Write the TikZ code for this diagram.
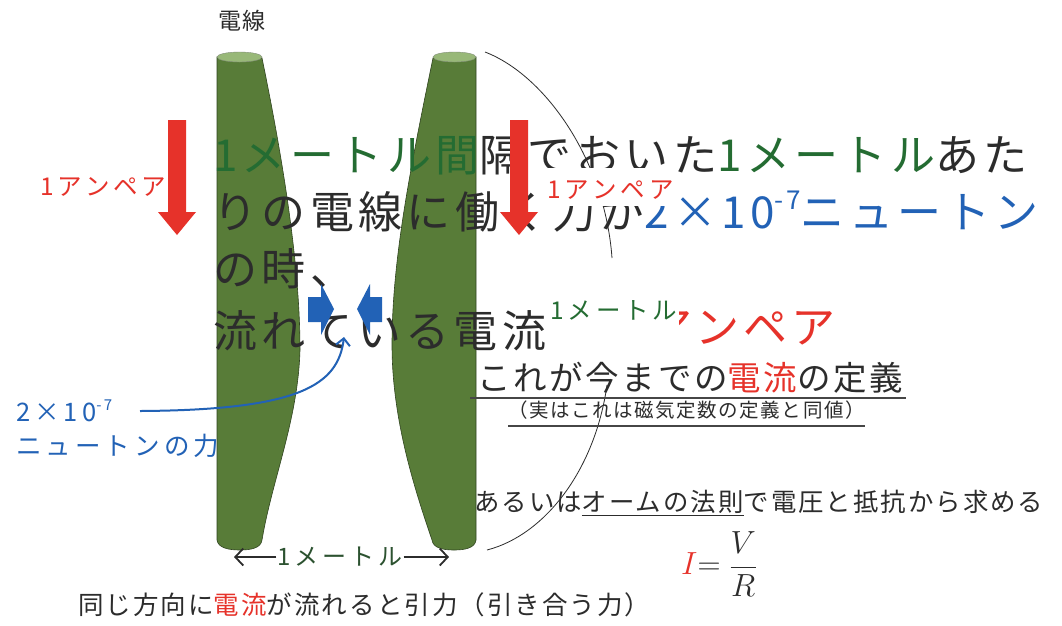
\RequirePackage{fix-cm}
\documentclass[tikz,border=0pt]{standalone}
\usepackage{fontspec}
\usetikzlibrary{arrows.meta,calc}
\newfontfamily\jp[LetterSpace=8]{Noto Sans CJK JP}
\newfontfamily\jpb[LetterSpace=10]{Noto Sans CJK JP}
\newfontfamily\jpw[LetterSpace=16]{Noto Sans CJK JP}
\definecolor{wire}{RGB}{88,124,56}
\definecolor{wiretop}{RGB}{152,184,120}
\definecolor{wireedge}{RGB}{48,68,32}
\definecolor{cred}{RGB}{230,50,42}
\definecolor{cgreen}{RGB}{36,108,50}
\definecolor{cdgreen}{RGB}{44,82,48}
\definecolor{cblue}{RGB}{34,98,182}
\definecolor{ink}{RGB}{44,44,44}
\definecolor{rulegray}{RGB}{70,70,70}
% underline drawn below a piece of text
\newcommand\uln[1]{\setbox0\hbox{#1}\rlap{\rule[-5pt]{\wd0}{1.2pt}}\box0}
\begin{document}
\begin{tikzpicture}[x=1pt,y=-1pt,
  wirebody/.style={fill=wire, draw=wireedge, line width=0.6pt},
  wirecap/.style={fill=wiretop, draw=wireedge!60, line width=0.4pt},
  bigtxt/.style={inner sep=0pt, anchor=base west, text=ink, font=\jpb\fontsize{44}{50}\selectfont},
  redblock/.style={fill=cred},
  blueblock/.style={fill=cblue},
  arcline/.style={draw=ink, line width=0.8pt},
  uline/.style={draw=rulegray, line width=1.3pt},
  forcearrow/.style={draw=cblue, line width=2pt, -{Straight Barb[length=7pt,width=14pt]}},
  dimarrow/.style={draw=ink, line width=1.8pt, -{Straight Barb[length=8pt,width=17pt]}},
  smalllbl/.style={inner sep=0pt, font=\jpw\fontsize{24.5}{28}\selectfont}
]
\useasboundingbox (0,0) rectangle (1062,625);
\fill[white] (0,0) rectangle (1062,625);

% the two wires
\path[wirebody] (217,57) -- (217,540) .. controls (218,548) and (229,550) .. (240,550)
  .. controls (251,550) and (261,548) .. (262,540)
  .. controls (272,480) and (298,420) .. (300,350)
  .. controls (300,270) and (285,170) .. (262,58) -- cycle;
\path[wirecap] (239.5,57) ellipse [x radius=22.5pt, y radius=5pt];
\path[wirebody] (476,57) -- (476,540) .. controls (475,548) and (465,550) .. (454,550)
  .. controls (443,550) and (433,548) .. (432,540)
  .. controls (415,490) and (392,420) .. (392,345)
  .. controls (392,260) and (410,170) .. (433,58) -- cycle;
\path[wirecap] (454.5,57) ellipse [x radius=21.5pt, y radius=5pt];

\node[inner sep=0pt, text=ink, font=\jp\fontsize{23}{28}\selectfont] (wlabel) at (242,21) {電線};

% main statement
\node[bigtxt] (l1) at (213,171) {\textcolor{cgreen}{1メートル間}隔でおいた\textcolor{cgreen}{1メートル}あた};
\node[bigtxt] (l2) at (213,228) {りの電線に働く力が\textcolor{cblue}{2×10\raisebox{0.42em}{\fontsize{26}{26}\selectfont -7}ニュートン}};
\node[bigtxt] (l3) at (213,285) {の時、};
\node[bigtxt] (l4) at (213,347) {流れている電流};

% magnetic field arcs
\coordinate (atop) at (485,52);
\coordinate (aend) at (612,258);
\draw[arcline] (atop) .. controls (545,75) and (605,160) .. (aend);
\coordinate (abot) at (487,550);
\coordinate (aend2) at (607,385);
\draw[arcline] (abot) .. controls (545,535) and (595,470) .. (aend2);

% current labels and arrows
\node[smalllbl, text=cred, anchor=base west] (ampL) at (40,195) {1アンペア};
\node[smalllbl, text=cred, fill=white, anchor=base west, inner xsep=2pt,
      text height=30pt, text depth=8pt] (ampR) at (545,198) {1アンペア};
\path[redblock] (168,120) -- (186,120) -- (186,212) -- (196,212) -- (177,235)
  -- (158,212) -- (168,212) -- cycle;
\path[redblock] (510,120) -- (528,120) -- (528,212) -- (538,212) -- (519,235)
  -- (500,212) -- (510,212) -- cycle;

% attraction arrows
\path[blueblock] (308,297) -- (321,297) -- (321,284) -- (334,309) -- (321,335)
  -- (321,322) -- (308,322) -- cycle;
\path[blueblock] (382,297) -- (370,297) -- (370,284) -- (357,309) -- (370,335)
  -- (370,322) -- (382,322) -- cycle;

% force label
\node[smalllbl, text=cblue, anchor=base west, font=\jpw\fontsize{25.5}{30}\selectfont]
  (f1) at (16,421) {2×10\raisebox{0.42em}{\fontsize{15}{15}\selectfont -7}};
\node[smalllbl, text=cblue, anchor=base west, font=\jpw\fontsize{25.5}{30}\selectfont]
  (f2) at (16,455) {ニュートンの力};
\coordinate (ftail) at (140,411);
\coordinate (ftip) at (344,337);
\draw[forcearrow] (ftail) .. controls (300,410) and (338,385) .. (ftip);

% ampere
\node[bigtxt, anchor=base east, text=cred] (ampbig) at (836,343) {1アンペア};
\node[smalllbl, text=cgreen, fill=white, anchor=base west, inner xsep=2pt,
      text height=31pt, text depth=33pt] (msmall) at (548,319) {1メートル\hspace{5pt}};

% definition
\node[inner sep=0pt, anchor=base west, text=ink, font=\jp\fontsize{33.5}{40}\selectfont]
  (def) at (477,390) {これが今までの\textcolor{cred}{電流}の定義};
\draw[uline] ($(def.base west)+(-7,8)$) -- ($(def.base east)+(2,8)$);
\node[inner sep=0pt, anchor=base west, text=ink, font=\jp\fontsize{19.5}{24}\selectfont]
  (same) at (508,417) {（実はこれは磁気定数の定義と同値）};
\draw[uline] ($(same.base west)+(0,9)$) -- ($(same.base east)+(0,9)$);

\node[inner sep=0pt, anchor=base west, text=ink, font=\jp\fontsize{25.4}{30}\selectfont]
  (ohm) at (474,511) {あるいは\uln{オームの法則}で電圧と抵抗から求める};
\node[inner sep=0pt, anchor=west, text=ink, font=\fontsize{32}{38}\selectfont]
  (frm) at (681,564) {$\color{cred}I\color{ink}\mathord{=}\;\displaystyle\frac{V}{R}$};

% separation
\node[smalllbl, text=cdgreen, font=\jpw\fontsize{24}{28}\selectfont, inner sep=1pt]
  (sep) at (340,557) {1メートル};
\coordinate (mL) at (234,557);
\coordinate (mR) at (449,557);
\draw[dimarrow] (sep.west) -- (mL);
\draw[dimarrow] (sep.east) -- (mR);

\node[inner sep=0pt, anchor=base west, text=ink, font=\jp\fontsize{25.5}{30}\selectfont]
  (attr) at (78,614) {同じ方向に\textcolor{cred}{電流}が流れると引力（引き合う力）};
\end{tikzpicture}
\end{document}
